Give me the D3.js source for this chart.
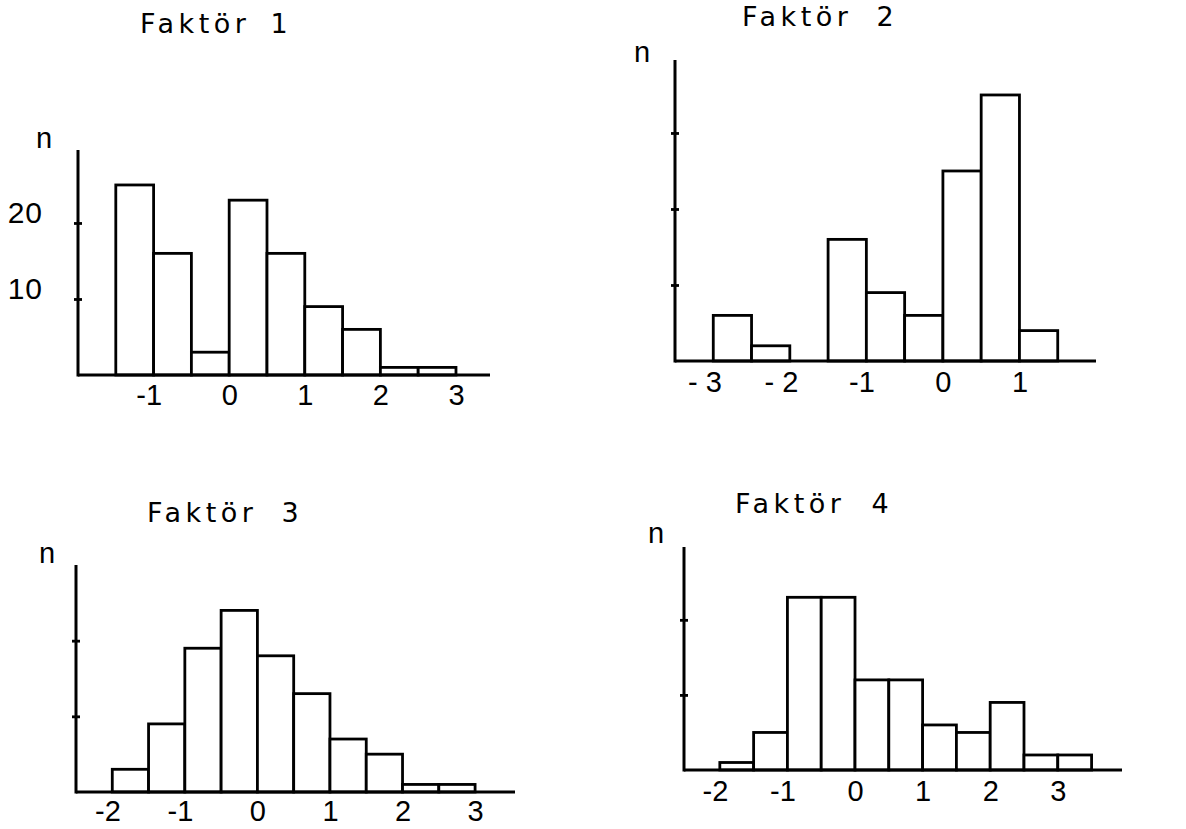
<!DOCTYPE html>
<html>
<head>
<meta charset="utf-8">
<script src="https://cdn.jsdelivr.net/npm/d3@7/dist/d3.min.js"></script>
<style>
  html, body { margin: 0; padding: 0; background: #fff; }
  svg { display: block; }
</style>
</head>
<body>
<svg id="chart" width="1186" height="829"></svg>
<script>
// ---------- DATA ----------
const binWidth = 0.5;

const f1Title = "Faktör";
const f1Num = "1";
const f1BinStarts = [-1.5, -1, -0.5, 0, 0.5, 1, 1.5, 2, 2.5];
const f1Counts = [25, 16, 3, 23, 16, 9, 6, 1, 1];
const f1XTicks = [-1, 0, 1, 2, 3];
const f1XLabels = ["-1", "0", "1", "2", "3"];
const f1YTicks = [10, 20];
const f1YLabels = ["10", "20"];

const f2Title = "Faktör";
const f2Num = "2";
const f2BinStarts = [-3, -2.5, -2, -1.5, -1, -0.5, 0, 0.5, 1];
const f2Counts = [6, 2, 0, 16, 9, 6, 25, 35, 4];
const f2XTicks = [-3, -2, -1, 0, 1];
const f2XLabels = ["- 3", "- 2", "-1", "0", "1"];
const f2YTicks = [10, 20, 30];

const f3Title = "Faktör";
const f3Num = "3";
const f3BinStarts = [-2, -1.5, -1, -0.5, 0, 0.5, 1, 1.5, 2, 2.5];
const f3Counts = [3, 9, 19, 24, 18, 13, 7, 5, 1, 1];
const f3XTicks = [-2, -1, 0, 1, 2, 3];
const f3XLabels = ["-2", "-1", "0", "1", "2", "3"];
const f3YTicks = [10, 20];

const f4Title = "Faktör";
const f4Num = "4";
const f4BinStarts = [-2, -1.5, -1, -0.5, 0, 0.5, 1, 1.5, 2, 2.5, 3];
const f4Counts = [1, 5, 23, 23, 12, 12, 6, 5, 9, 2, 2];
const f4XTicks = [-2, -1, 0, 1, 2, 3];
const f4XLabels = ["-2", "-1", "0", "1", "2", "3"];
const f4YTicks = [10, 20];

// ---------- LAYOUT ----------
const panels = [
  { title: f1Title, num: f1Num, starts: f1BinStarts, counts: f1Counts, xTicks: f1XTicks, xLabels: f1XLabels, yTicks: f1YTicks, yLabels: f1YLabels,
    left: 78, right: 490, base: 375, top: 150, xDomain: [-2, 3.45], yMax: 29.6,
    titleX: 140, titleY: 33, numDx: 20, nX: 44, nY: 148, labelDy: 30 },
  { title: f2Title, num: f2Num, starts: f2BinStarts, counts: f2Counts, xTicks: f2XTicks, xLabels: f2XLabels, yTicks: f2YTicks, yLabels: null,
    left: 675, right: 1096, base: 361, top: 60, xDomain: [-3.5, 2.0], yMax: 39.6,
    titleX: 742, titleY: 26, numDx: 24, nX: 642, nY: 62, labelDy: 31 },
  { title: f3Title, num: f3Num, starts: f3BinStarts, counts: f3Counts, xTicks: f3XTicks, xLabels: f3XLabels, yTicks: f3YTicks, yLabels: null,
    left: 76, right: 515, base: 792, top: 565, xDomain: [-2.5, 3.55], yMax: 30,
    titleX: 147, titleY: 522, numDx: 24, nX: 47, nY: 563, labelDy: 29 },
  { title: f4Title, num: f4Num, starts: f4BinStarts, counts: f4Counts, xTicks: f4XTicks, xLabels: f4XLabels, yTicks: f4YTicks, yLabels: null,
    left: 684, right: 1122, base: 770, top: 547, xDomain: [-2.53, 3.95], yMax: 29.7,
    titleX: 735, titleY: 513, numDx: 26, nX: 656, nY: 543, labelDy: 31 }
];

const svg = d3.select("#chart");
svg.append("rect").attr("width", 1186).attr("height", 829).attr("fill", "#fff");

const tickFont = "'Liberation Sans', Arial, sans-serif";
const titleFont = "'DejaVu Sans', sans-serif";

panels.forEach(p => {
  const x = d3.scaleLinear().domain(p.xDomain).range([p.left, p.right]);
  const y = d3.scaleLinear().domain([0, p.yMax]).range([p.base, p.top]);
  const g = svg.append("g");

  // bars
  const bins = p.starts.map((s, i) => ({ x0: s, x1: s + binWidth, n: p.counts[i] })).filter(d => d.n > 0);
  g.selectAll("rect.bar").data(bins).join("rect")
    .attr("class", "bar")
    .attr("x", d => x(d.x0))
    .attr("y", d => y(d.n))
    .attr("width", d => x(d.x1) - x(d.x0))
    .attr("height", d => y(0) - y(d.n))
    .attr("fill", "#fff")
    .attr("stroke", "#000")
    .attr("stroke-width", 2.8);

  // x axis
  const xAxis = d3.axisBottom(x)
    .tickValues(p.xTicks)
    .tickSize(0)
    .tickPadding(0)
    .tickFormat((d, i) => p.xLabels[i]);
  const gx = g.append("g").attr("transform", `translate(0,${p.base})`).call(xAxis);
  gx.select(".domain").attr("stroke", "#000").attr("stroke-width", 3).attr("d", `M${p.left},0H${p.right}`);
  gx.selectAll(".tick text")
    .attr("y", p.labelDy)
    .attr("dy", 0)
    .attr("fill", "#000")
    .style("font-family", tickFont)
    .style("font-size", "29px")
    .attr("text-anchor", d => d < 0 ? "end" : "middle")
    .attr("x", d => d < 0 ? 8 : 0);

  // y axis
  const yAxis = d3.axisLeft(y)
    .tickValues(p.yTicks)
    .tickSizeInner(4)
    .tickSizeOuter(0)
    .tickFormat((d, i) => p.yLabels ? p.yLabels[i] : "");
  const gy = g.append("g").attr("transform", `translate(${p.left},0)`).call(yAxis);
  gy.select(".domain").attr("stroke", "#000").attr("stroke-width", 3).attr("d", `M0,${p.top}V${p.base + 1.5}`);
  gy.selectAll(".tick line").attr("x1", -4).attr("x2", 4).attr("stroke", "#000").attr("stroke-width", 2.8);
  gy.selectAll(".tick text")
    .attr("x", -35)
    .attr("dy", 0)
    .attr("fill", "#000")
    .attr("text-anchor", "end")
    .style("font-family", tickFont)
    .style("font-size", "30px")
    .attr("letter-spacing", 1);

  // n label
  g.append("text")
    .attr("x", p.nX).attr("y", p.nY)
    .attr("text-anchor", "middle")
    .style("font-family", tickFont)
    .style("font-size", "29px")
    .attr("fill", "#000")
    .text("n");

  // title
  const t = g.append("text")
    .attr("x", p.titleX).attr("y", p.titleY)
    .style("font-family", titleFont)
    .style("font-size", "27px")
    .attr("letter-spacing", 4.5)
    .attr("fill", "#000")
    .text(p.title);
  t.append("tspan").attr("dx", p.numDx).text(p.num);
});
</script>
</body>
</html>
